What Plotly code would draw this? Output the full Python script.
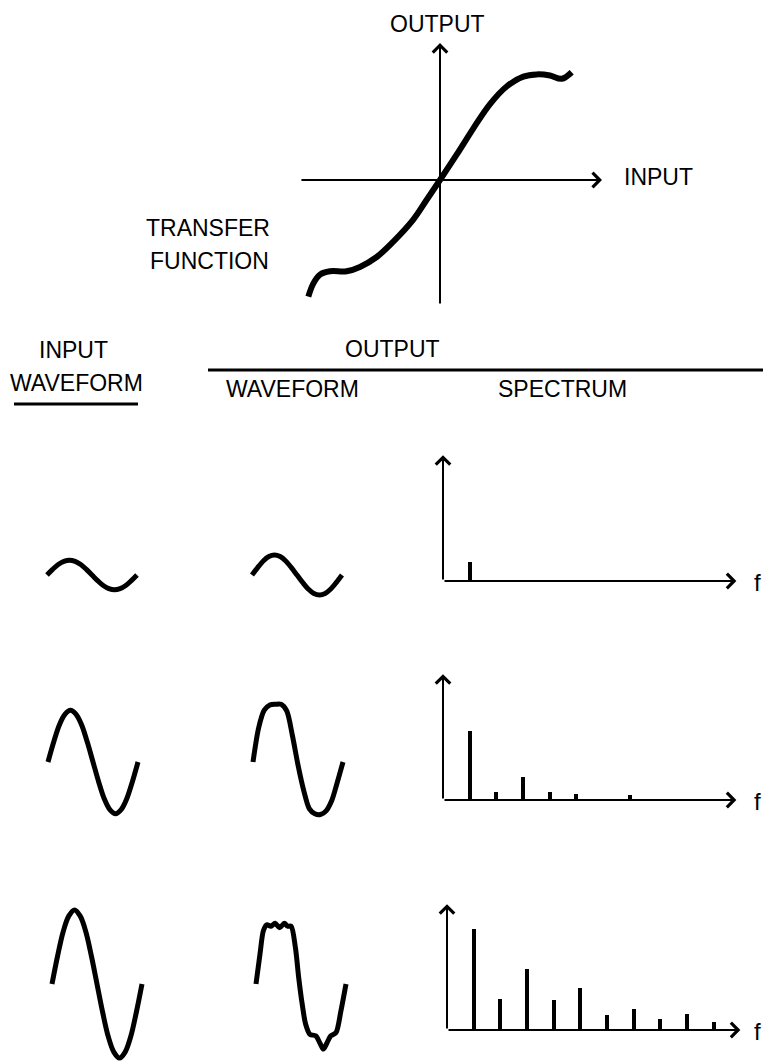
import plotly.graph_objects as go

W, H = 763, 1061

# ---------------- data ----------------
# transfer function: input (x) vs output (y), normalised units
tf_in = [-0.990, -0.952, -0.902, -0.827, -0.702, -0.602, -0.476, -0.351, -0.201, -0.100,
         0.0, 0.125, 0.251, 0.376, 0.501, 0.627, 0.727, 0.827, 0.915, 0.990]
tf_out = [-1.06, -0.94, -0.86, -0.83, -0.83, -0.79, -0.70, -0.56, -0.36, -0.18,
          0.0, 0.23, 0.47, 0.69, 0.85, 0.94, 0.96, 0.95, 0.92, 0.98]

# waveforms: one period, sampled in 16 steps of phase
phase = [i / 16 for i in range(17)]
sine_shape = [0, 0.38, 0.71, 0.92, 1.0, 0.92, 0.71, 0.38, 0, -0.38, -0.71, -0.92, -1.0, -0.92, -0.71, -0.38, 0]
input_amp = [0.20, 0.70, 1.00]

out1 = [0, 0.10, 0.19, 0.25, 0.27, 0.25, 0.19, 0.10, 0, -0.10, -0.19, -0.25, -0.27, -0.25, -0.19, -0.10, 0]
out2 = [0, 0.46, 0.70, 0.77, 0.78, 0.78, 0.69, 0.36, -0.04, -0.38, -0.63, -0.70, -0.71, -0.66, -0.52, -0.27, 0]
out3_phase = [0.000, 0.045, 0.082, 0.120, 0.165, 0.213, 0.262, 0.315, 0.352, 0.390, 0.438, 0.475,
              0.513, 0.551, 0.599, 0.663, 0.711, 0.749, 0.787, 0.831, 0.888, 0.944, 1.000]
out3 = [0, 0.41, 0.72, 0.80, 0.78, 0.82, 0.76, 0.82, 0.78, 0.78, 0.49, 0.08,
        -0.27, -0.54, -0.68, -0.70, -0.80, -0.88, -0.80, -0.70, -0.66, -0.36, 0]

# spectra: harmonic number and amplitude
spec1_h = [1]
spec1_a = [0.19]
spec2_h = [1, 2, 3, 4, 5, 7]
spec2_a = [0.69, 0.08, 0.23, 0.08, 0.06, 0.05]
spec3_h = [1, 2, 3, 4, 5, 6, 7, 8, 9, 10]
spec3_a = [1.00, 0.31, 0.61, 0.30, 0.42, 0.15, 0.21, 0.11, 0.16, 0.08]

# ---------------- layout helpers ----------------
fig = go.Figure()
layout = {}
annotations = []
n_axes = [0]
INK = "black"
FONT = "Liberation Sans"
FS = 23


def panel(x0, y0, sx, sy, left, right, top, bottom):
    """Create a hidden axis pair whose data origin sits at pixel (x0, y0)."""
    n_axes[0] += 1
    i = n_axes[0]
    xa = "xaxis" if i == 1 else f"xaxis{i}"
    ya = "yaxis" if i == 1 else f"yaxis{i}"
    xr = "x" if i == 1 else f"x{i}"
    yr = "y" if i == 1 else f"y{i}"
    layout[xa] = dict(domain=[left / W, right / W], range=[(left - x0) / sx, (right - x0) / sx],
                      visible=False, anchor=yr, fixedrange=True)
    layout[ya] = dict(domain=[1 - bottom / H, 1 - top / H], range=[(y0 - bottom) / sy, (y0 - top) / sy],
                      visible=False, anchor=xr, fixedrange=True)
    return xr, yr


def arrow(xr, yr, tail, tip, head=True, width=2):
    annotations.append(dict(xref=xr, yref=yr, axref=xr, ayref=yr,
                            x=tip[0], y=tip[1], ax=tail[0], ay=tail[1],
                            text="", showarrow=True, arrowhead=4 if head else 0,
                            arrowsize=1.4, arrowwidth=width, arrowcolor=INK,
                            standoff=0, startstandoff=0))


def label(text, px, py, size=FS, xanchor="center"):
    annotations.append(dict(xref="paper", yref="paper", x=px / W, y=1 - py / H,
                            text=text, showarrow=False, xanchor=xanchor, yanchor="middle",
                            font=dict(family=FONT, size=size, color=INK)))


# ---------------- transfer function ----------------
xr, yr = panel(440, 180, 133, 110, 280, 625, 30, 320)
fig.add_trace(go.Scatter(x=tf_in, y=tf_out, mode="lines", xaxis=xr, yaxis=yr,
                         line=dict(color=INK, width=6, shape="spline", smoothing=1.0),
                         hoverinfo="skip"))
arrow(xr, yr, (-1.053, 0), (1.218, 0))
arrow(xr, yr, (0, -1.136), (0, 1.245))

label("OUTPUT", 437, 24)
label("INPUT", 622, 177, xanchor="left")
label("TRANSFER", 208, 228)
label("FUNCTION", 209, 261)

# ---------------- headers ----------------
label("INPUT", 73, 350)
label("WAVEFORM", 76, 383)
label("OUTPUT", 392, 349)
label("WAVEFORM", 292, 389)
label("SPECTRUM", 562, 389)
shapes = [
    dict(type="line", xref="paper", yref="paper", x0=14 / W, x1=138 / W, y0=1 - 404 / H, y1=1 - 404 / H,
         line=dict(color=INK, width=3)),
    dict(type="line", xref="paper", yref="paper", x0=208 / W, x1=1.0, y0=1 - 370 / H, y1=1 - 370 / H,
         line=dict(color=INK, width=3)),
]

# ---------------- waveforms ----------------
row_center = [575, 762, 984]
in_left = [47, 48, 52]
out_left = [252, 253, 256]
SX, SY = 90, 74
outs = [(phase, out1), (phase, out2), (out3_phase, out3)]
for r in range(3):
    c = row_center[r]
    # input waveform
    xr, yr = panel(in_left[r], c, SX, SY, in_left[r] - 15, in_left[r] + 105,
                   c - 85, min(H, c + 80))
    fig.add_trace(go.Scatter(x=phase, y=[input_amp[r] * v for v in sine_shape], mode="lines",
                             xaxis=xr, yaxis=yr, hoverinfo="skip",
                             line=dict(color=INK, width=5, shape="spline", smoothing=1.0)))
    # output waveform
    xr, yr = panel(out_left[r], c, SX, SY, out_left[r] - 15, out_left[r] + 105,
                   c - 85, min(H, c + 80))
    px_, py_ = outs[r]
    fig.add_trace(go.Scatter(x=px_, y=py_, mode="lines", xaxis=xr, yaxis=yr, hoverinfo="skip",
                             line=dict(color=INK, width=5, shape="spline", smoothing=0.8)))

# ---------------- spectra ----------------
spec_origin = [(443, 581), (443, 800), (447, 1030)]
spectra = [(spec1_h, spec1_a), (spec2_h, spec2_a), (spec3_h, spec3_a)]
SXS, SYS = 26.67, 100.7
for r in range(3):
    ox, oy = spec_origin[r]
    xr, yr = panel(ox, oy, SXS, SYS, ox - 15, W, oy - 140, min(H, oy + 15))
    h, a = spectra[r]
    fig.add_trace(go.Bar(x=h, y=a, width=0.15, xaxis=xr, yaxis=yr, hoverinfo="skip",
                         marker=dict(color=INK, line=dict(width=0))))
    arrow(xr, yr, (0, 0), (11.0, 0))
    arrow(xr, yr, (0, 0), (0, 1.25))
    label("f", min(ox + 313, 752), oy + 1, size=24, xanchor="left")

fig.update_layout(width=W, height=H, margin=dict(l=0, r=0, t=0, b=0),
                  paper_bgcolor="white", plot_bgcolor="rgba(0,0,0,0)",
                  showlegend=False, annotations=annotations, shapes=shapes,
                  bargap=0, **layout)

fig.write_html("out.html", config={"displayModeBar": False, "staticPlot": True},
               post_script="document.body.style.margin='0';")
